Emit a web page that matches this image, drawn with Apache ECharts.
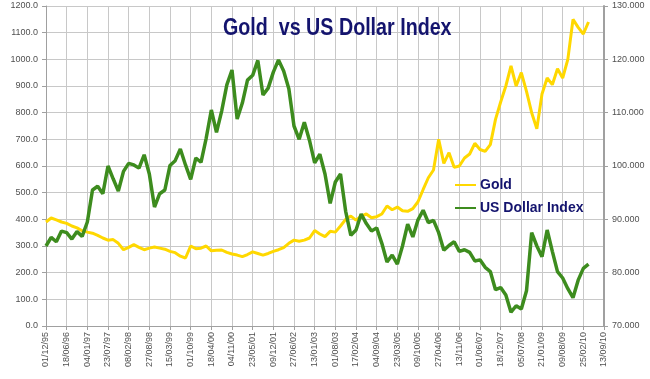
<!DOCTYPE html>
<html><head><meta charset="utf-8">
<script src="https://cdn.jsdelivr.net/npm/echarts@6/dist/echarts.min.js"></script>
<style>html,body{margin:0;padding:0;background:#fff}#c{width:650px;height:379px}</style>
</head><body><div id="c"></div>
<script>
const tickLabels = ['01/12/95','18/06/96','04/01/97','23/07/97','08/02/98','27/08/98','15/03/99','01/10/99','18/04/00','04/11/00','23/05/01','09/12/01','27/06/02','13/01/03','01/08/03','17/02/04','04/09/04','23/03/05','09/10/05','27/04/06','13/11/06','01/06/07','18/12/07','05/07/08','21/01/09','09/08/09','25/02/10','13/09/10'];
const pointsPerTick = 4;

const gold = [390,405,398,390,385,375,368,357,352,348,
340,330,322,324,310,286,295,305,295,286,
292,296,292,288,280,275,262,255,300,290,
292,300,282,284,285,276,270,266,260,268,
278,272,266,272,280,286,294,310,322,318,
322,330,358,345,335,355,352,375,400,412,
397,412,420,406,410,420,450,436,446,432,
430,440,466,512,556,585,700,610,650,595,
600,630,645,685,662,655,680,775,840,900,
975,900,950,880,800,740,870,930,905,965,
930,1000,1150,1120,1095,1140];

const usdIndex = [85.0,86.6,85.8,87.8,87.5,86.3,87.7,86.8,89.5,95.5,
96.2,94.8,100.0,97.6,95.3,99.0,100.5,100.2,99.6,102.1,
98.5,92.3,94.8,95.5,100.1,101.0,103.2,100.2,97.5,101.5,
100.7,105.2,110.5,106.3,110.3,115.2,118.0,108.8,111.8,116.1,
117.0,119.8,113.3,114.6,117.6,119.9,117.8,114.5,107.5,105.0,
108.2,104.8,100.6,102.2,98.5,93.0,97.0,98.5,91.5,87.0,
88.0,91.0,89.2,87.8,88.4,85.5,82.0,83.3,81.6,85.0,
89.1,86.7,89.9,91.7,89.4,89.8,87.5,84.2,85.1,85.8,
84.0,84.3,83.8,82.2,82.4,81.0,80.2,76.8,77.2,75.8,
72.6,73.8,73.2,76.6,87.5,85.0,83.0,88.0,84.0,80.2,
79.0,77.0,75.3,78.6,80.8,81.6];

const leftTicks = {min:0, max:1200, interval:100};
const rightTicks = {min:70, max:130, interval:10};
const titleText = 'Gold  vs US Dollar Index';

const boldFont = "'Liberation Sans',Arial,sans-serif";
const chart = echarts.init(document.getElementById('c'), null, {renderer:'canvas'});
chart.setOption({
  backgroundColor:'#ffffff',
  animation:false,
  graphic:[{
    type:'text', x:223, y:28, scaleX:0.82, scaleY:1, z:10,
    style:{text:titleText, font:"bold 24px 'Liberation Sans',Arial,sans-serif",
      fill:'#14146e', align:'left', verticalAlign:'middle'}
  }],
  legend:{
    orient:'vertical', left:450, top:173, itemGap:9,
    icon:'rect', itemWidth:21, itemHeight:2,
    textStyle:{fontFamily:boldFont, fontWeight:'bold', fontSize:14, color:'#14146e', padding:[0,0,0,-1]},
    data:['Gold','US Dollar Index']
  },
  grid:{left:46, right:46, top:6, bottom:53, containLabel:false},
  xAxis:{
    type:'value', min:0, max:(tickLabels.length-1)*pointsPerTick, interval:pointsPerTick,
    axisLine:{show:true, lineStyle:{color:'#a0a0a0'}},
    axisTick:{show:true, length:4, lineStyle:{color:'#a0a0a0'}},
    axisLabel:{rotate:90, fontSize:9, color:'#505050', margin:6, showMinLabel:true, showMaxLabel:true,
      formatter:v=>tickLabels[Math.round(v/pointsPerTick)] || ''},
    splitLine:{show:true, lineStyle:{color:'#c8c8c8'}}
  },
  yAxis:[
    {type:'value', position:'left', min:leftTicks.min, max:leftTicks.max, interval:leftTicks.interval,
     axisLine:{show:true, lineStyle:{color:'#a0a0a0'}},
     axisTick:{show:true, length:4, lineStyle:{color:'#a0a0a0'}},
     axisLabel:{fontSize:9, color:'#505050', margin:8, formatter:v=>v.toFixed(1)},
     splitLine:{show:true, lineStyle:{color:'#c8c8c8'}}},
    {type:'value', position:'right', min:rightTicks.min, max:rightTicks.max, interval:rightTicks.interval,
     axisLine:{show:true, lineStyle:{color:'#a0a0a0', width:2}},
     axisTick:{show:true, length:4, lineStyle:{color:'#a0a0a0'}},
     axisLabel:{fontSize:9, color:'#505050', margin:8, formatter:v=>v.toFixed(3)},
     splitLine:{show:false}}
  ],
  series:[
    {name:'Gold', type:'line', yAxisIndex:0, symbol:'none', smooth:false,
     lineStyle:{color:'#ffd800', width:3}, itemStyle:{color:'#ffd800'},
     data:gold.map((v,i)=>[i,v])},
    {name:'US Dollar Index', type:'line', yAxisIndex:1, symbol:'none', smooth:false,
     lineStyle:{color:'#3d8c1e', width:3.5}, itemStyle:{color:'#3d8c1e'},
     data:usdIndex.map((v,i)=>[i,v])}
  ]
});
</script></body></html>
